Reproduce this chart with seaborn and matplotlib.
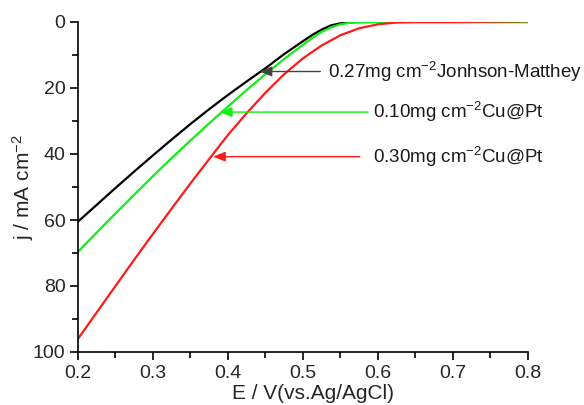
import numpy as np
import pandas as pd
import matplotlib
matplotlib.use("Agg")
import matplotlib.pyplot as plt
import seaborn as sns

# potential (V vs Ag/AgCl) and current density (mA cm-2)
E_black = [0.20, 0.225, 0.25, 0.275, 0.30, 0.325, 0.35, 0.375, 0.40, 0.425, 0.45, 0.475,
           0.50, 0.5125, 0.525, 0.5375, 0.55, 0.5625, 0.575, 0.60, 0.65, 0.70, 0.75, 0.80]
j_black = [60.5, 55.4, 50.3, 45.3, 40.4, 35.6, 30.9, 26.4, 22.1, 18.0, 14.0, 9.7,
           5.8, 3.9, 2.3, 1.0, 0.4, 0.1, 0.0, 0.0, 0.0, 0.0, 0.0, 0.0]

E_green = [0.20, 0.225, 0.25, 0.275, 0.30, 0.325, 0.35, 0.375, 0.40, 0.425, 0.45, 0.475,
           0.50, 0.5125, 0.525, 0.5375, 0.55, 0.5625, 0.575, 0.60, 0.65, 0.70, 0.75, 0.80]
j_green = [69.6, 63.8, 58.0, 52.3, 46.7, 41.2, 35.9, 30.7, 25.6, 20.6, 15.8, 11.2,
           6.9, 4.8, 3.0, 1.6, 0.7, 0.25, 0.05, 0.0, 0.0, 0.0, 0.0, 0.0]

E_red = [0.20, 0.225, 0.25, 0.275, 0.30, 0.325, 0.35, 0.375, 0.40, 0.425, 0.45, 0.475,
         0.50, 0.525, 0.55, 0.575, 0.60, 0.625, 0.65, 0.70, 0.75, 0.80]
j_red = [96.0, 88.0, 80.0, 72.0, 64.2, 56.5, 48.9, 41.5, 34.2, 27.6, 21.4, 15.8,
         11.0, 7.1, 4.0, 1.9, 0.7, 0.15, 0.0, 0.0, -0.1, -0.2]

labels = ["0.27mg cm$^{-2}$Jonhson-Matthey",
          "0.10mg cm$^{-2}$Cu@Pt",
          "0.30mg cm$^{-2}$Cu@Pt"]
colors = ["black", "#11ee11", "#ff1a1a"]

sns.set_style("ticks")
plt.rcParams["font.family"] = ["Liberation Sans", "DejaVu Sans"]
plt.rcParams["mathtext.fontset"] = "custom"
plt.rcParams["mathtext.rm"] = "Liberation Sans"
plt.rcParams["mathtext.it"] = "Liberation Sans"

fig = plt.figure(figsize=(5.84, 4.05), dpi=100)
ax = fig.add_axes([78 / 584, 1 - 352 / 405, 450 / 584, 330 / 405])

for E, j, c in zip([E_black, E_green, E_red], [j_black, j_green, j_red], colors):
    sns.lineplot(x=E, y=j, color=c, lw=1.6, ax=ax)

ax.set_xlim(0.2, 0.8)
ax.set_ylim(100, 0)
ax.set_xticks(np.arange(0.2, 0.81, 0.1))
ax.set_xticks(np.arange(0.25, 0.8, 0.1), minor=True)
ax.set_yticks(np.arange(0, 101, 20))
ax.set_yticks(np.arange(10, 100, 20), minor=True)
ax.tick_params(which="both", direction="out", width=1.2, labelsize=14, color="black")
ax.tick_params(which="major", length=6, pad=3)
ax.tick_params(which="minor", length=4)
sns.despine(ax=ax)
for s in ["left", "bottom"]:
    ax.spines[s].set_linewidth(1.2)
    ax.spines[s].set_color("black")

ax.set_xlabel("E / V(vs.Ag/AgCl)", fontsize=15, labelpad=2)
ax.set_ylabel("j / mA cm$^{-2}$", fontsize=15, labelpad=-2)
ax.xaxis.set_label_coords(0.522, -0.098)

# annotation arrows: (tip E, tip j), (text E, text j), gap before text
tips = [(0.442, 15.0), (0.389, 27.3), (0.380, 40.8)]
texts = [(0.533, 15.0), (0.593, 27.3), (0.593, 40.8)]
gaps = [3, 1, 7]
arrow_colors = ["#444444", "#11ee11", "#ff1a1a"]
for lab, tip, txt, g, ac in zip(labels, tips, texts, gaps, arrow_colors):
    ax.annotate(lab, xy=tip, xytext=txt, ha="left", va="center", fontsize=13.5,
                color="#1a1a1a",
                arrowprops=dict(arrowstyle="-|>,head_length=0.55,head_width=0.22",
                                color=ac, lw=1.0, shrinkA=g, shrinkB=0))

fig.savefig("out.png", dpi=100)
